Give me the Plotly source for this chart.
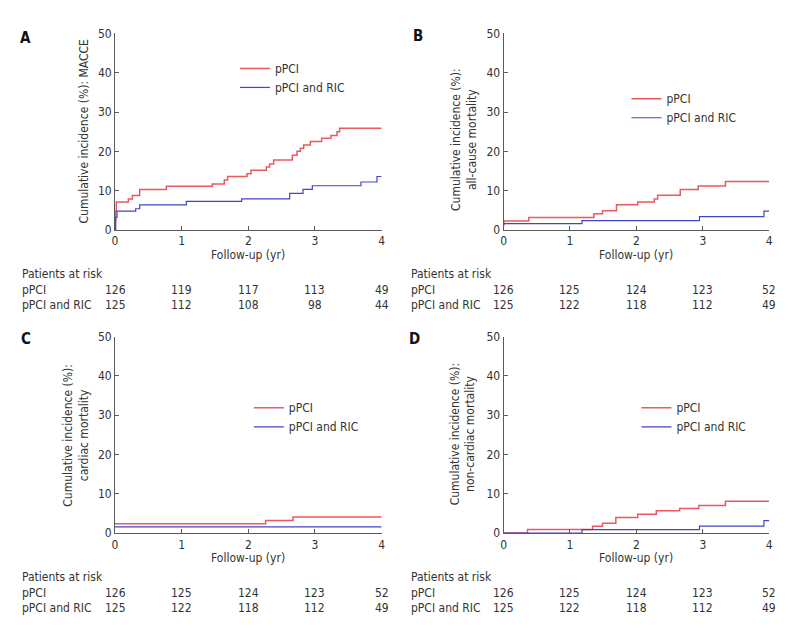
import plotly.graph_objects as go

W, H = 800, 634
FONT = "'DejaVu Sans Condensed', 'Liberation Sans', sans-serif"
RED = "#ea5860"
BLUE = "#4444c8"
AX = "#5a5a5a"

series_names = ["pPCI", "pPCI and RIC"]
x_ticks = [0, 1, 2, 3, 4]
y_ticks = [0, 10, 20, 30, 40, 50]

# Panel A: MACCE
a_red_t = [0, 0.005, 0.01, 0.02, 0.2, 0.26, 0.37, 0.77, 1.46, 1.64, 1.69, 1.98, 2.04, 2.27, 2.32,
           2.38, 2.66, 2.73, 2.78, 2.83, 2.93, 3.10, 3.24, 3.33, 3.37, 4.0]
a_red_y = [0, 2.4, 4.8, 7.1, 7.9, 8.75, 10.3, 11.1, 11.7, 12.7, 13.6, 14.3, 15.2, 16.0, 16.8,
           17.8, 19.0, 20.0, 20.8, 21.6, 22.5, 23.3, 24.0, 25.0, 25.9, 25.9]
a_blue_t = [0, 0.01, 0.03, 0.31, 0.37, 1.07, 1.9, 2.62, 2.82, 2.96, 3.69, 3.93, 4.0]
a_blue_y = [0, 3.2, 4.8, 5.4, 6.4, 7.25, 7.9, 9.3, 10.3, 11.25, 12.2, 13.6, 13.6]

# Panel B: all-cause mortality
b_red_t = [0, 0.005, 0.38, 1.36, 1.49, 1.70, 2.02, 2.27, 2.32, 2.66, 2.93, 3.34, 4.0]
b_red_y = [1.2, 2.3, 3.2, 4.1, 4.9, 6.4, 7.1, 7.9, 8.8, 10.3, 11.2, 12.3, 12.3]
b_blue_t = [0, 1.18, 2.95, 3.92, 4.0]
b_blue_y = [1.6, 2.4, 3.4, 4.8, 4.8]

# Panel C: cardiac mortality
c_red_t = [0, 2.26, 2.67, 4.0]
c_red_y = [2.4, 3.2, 4.1, 4.1]
c_blue_t = [0, 4.0]
c_blue_y = [1.6, 1.6]

# Panel D: non-cardiac mortality
d_red_t = [0, 0.36, 1.34, 1.49, 1.69, 2.02, 2.30, 2.65, 2.94, 3.34, 4.0]
d_red_y = [0, 0.9, 1.75, 2.5, 4.0, 4.8, 5.7, 6.25, 7.0, 8.1, 8.1]
d_blue_t = [0, 1.18, 2.95, 3.92, 4.0]
d_blue_y = [0, 0.9, 1.8, 3.2, 3.2]

# Patients at risk
a_risk_red = [126, 119, 117, 113, 49]
a_risk_blue = [125, 112, 108, 98, 44]
b_risk_red = [126, 125, 124, 123, 52]
b_risk_blue = [125, 122, 118, 112, 49]
c_risk_red = [126, 125, 124, 123, 52]
c_risk_blue = [125, 122, 118, 112, 49]
d_risk_red = [126, 125, 124, 123, 52]
d_risk_blue = [125, 122, 118, 112, 49]

panels = [
    dict(letter="A", ytitle="Cumulative incidence (%): MACCE",
         red=(a_red_t, a_red_y), blue=(a_blue_t, a_blue_y), risk=(a_risk_red, a_risk_blue),
         xpx=(113, 382), ypx=(27, 228), letter_pos=(23, 32), ytitle_pos=(82, 127),
         legend_pos=(234, 48), risk_left=17, risk_rows=(273, 289, 305), xtitle_y=254),
    dict(letter="B", ytitle="Cumulative incidence (%):<br>all-cause mortality",
         red=(b_red_t, b_red_y), blue=(b_blue_t, b_blue_y), risk=(b_risk_red, b_risk_blue),
         xpx=(505, 773), ypx=(27, 228), letter_pos=(419, 30), ytitle_pos=(465, 135),
         legend_pos=(629, 79), risk_left=410, risk_rows=(273, 289, 305), xtitle_y=254),
    dict(letter="C", ytitle="Cumulative incidence (%):<br>cardiac mortality",
         red=(c_red_t, c_red_y), blue=(c_blue_t, c_blue_y), risk=(c_risk_red, c_risk_blue),
         xpx=(113, 382), ypx=(337, 538), letter_pos=(23, 340), ytitle_pos=(74, 438),
         legend_pos=(248, 395), risk_left=17, risk_rows=(583, 599, 615), xtitle_y=563),
    dict(letter="D", ytitle="Cumulative incidence (%):<br>non-cardiac mortality",
         red=(d_red_t, d_red_y), blue=(d_blue_t, d_blue_y), risk=(d_risk_red, d_risk_blue),
         xpx=(505, 773), ypx=(337, 538), letter_pos=(415, 340), ytitle_pos=(464, 436),
         legend_pos=(639, 395), risk_left=410, risk_rows=(583, 599, 615), xtitle_y=563),
]

fig = go.Figure()
annotations = []
layout = {}


def px(x):
    return x / W


def py(y):
    return 1 - y / H


for i, p in enumerate(panels):
    n = "" if i == 0 else str(i + 1)
    xa, ya = "x" + n, "y" + n
    leg = "legend" + n
    for (t, v), name, col, lw in [(p["red"], series_names[0], RED, 1.5),
                                  (p["blue"], series_names[1], BLUE, 1.2)]:
        fig.add_trace(go.Scatter(x=t, y=v, mode="lines", line=dict(color=col, width=lw, shape="hv"),
                                 name=name, xaxis=xa, yaxis=ya, legend=leg, hoverinfo="skip"))
    common = dict(showline=True, linecolor=AX, linewidth=1, ticks="inside", ticklen=4,
                  tickcolor=AX, showgrid=False, zeroline=False,
                  tickfont=dict(family=FONT, size=12, color="#333"))
    layout["xaxis" + n] = dict(domain=[px(p["xpx"][0]), px(p["xpx"][1])], range=[0, 4],
                               tickvals=x_ticks, anchor=ya, fixedrange=True, **common)
    layout["yaxis" + n] = dict(domain=[py(p["ypx"][1]), py(p["ypx"][0])], range=[0, 50],
                               tickvals=y_ticks, anchor=xa, fixedrange=True, **common)
    layout[leg] = dict(x=px(p["legend_pos"][0]), y=py(p["legend_pos"][1]), xanchor="left",
                       yanchor="top", bgcolor="rgba(0,0,0,0)", borderwidth=0,
                       font=dict(family=FONT, size=12, color="#333"), tracegroupgap=0)
    # panel letter
    annotations.append(dict(text="<b>%s</b>" % p["letter"], x=px(p["letter_pos"][0]),
                            y=py(p["letter_pos"][1]), xref="paper", yref="paper",
                            showarrow=False, xanchor="center", yanchor="middle",
                            font=dict(family=FONT, size=15, color="#111")))
    # y title
    annotations.append(dict(text=p["ytitle"], x=px(p["ytitle_pos"][0]), y=py(p["ytitle_pos"][1]),
                            xref="paper", yref="paper", showarrow=False, textangle=-90,
                            xanchor="center", yanchor="middle",
                            font=dict(family=FONT, size=12, color="#333")))
    # x title
    annotations.append(dict(text="Follow-up (yr)", x=2, xref=xa, y=py(p["xtitle_y"]), yref="paper",
                            showarrow=False, xanchor="center", yanchor="middle",
                            font=dict(family=FONT, size=12, color="#333")))
    # at-risk table
    r0, r1, r2 = p["risk_rows"]
    for label, ry in [("Patients at risk", r0), (series_names[0], r1), (series_names[1], r2)]:
        annotations.append(dict(text=label, x=px(p["risk_left"]), y=py(ry), xref="paper",
                                yref="paper", showarrow=False, xanchor="left", yanchor="middle",
                                font=dict(family=FONT, size=12, color="#333")))
    for vals, ry in [(p["risk"][0], r1), (p["risk"][1], r2)]:
        for t, v in zip(x_ticks, vals):
            annotations.append(dict(text=str(v), x=t, xref=xa, y=py(ry), yref="paper",
                                    showarrow=False, xanchor="center", yanchor="middle",
                                    font=dict(family=FONT, size=12, color="#333")))

fig.update_layout(width=W, height=H, margin=dict(l=0, r=0, t=0, b=0),
                  paper_bgcolor="white", plot_bgcolor="white", annotations=annotations,
                  font=dict(family=FONT, size=12, color="#333"), hovermode=False, **layout)
fig.write_html("out.html", config={"displayModeBar": False, "staticPlot": True},
               post_script="document.body.style.margin='0';document.body.style.overflow='hidden';")
